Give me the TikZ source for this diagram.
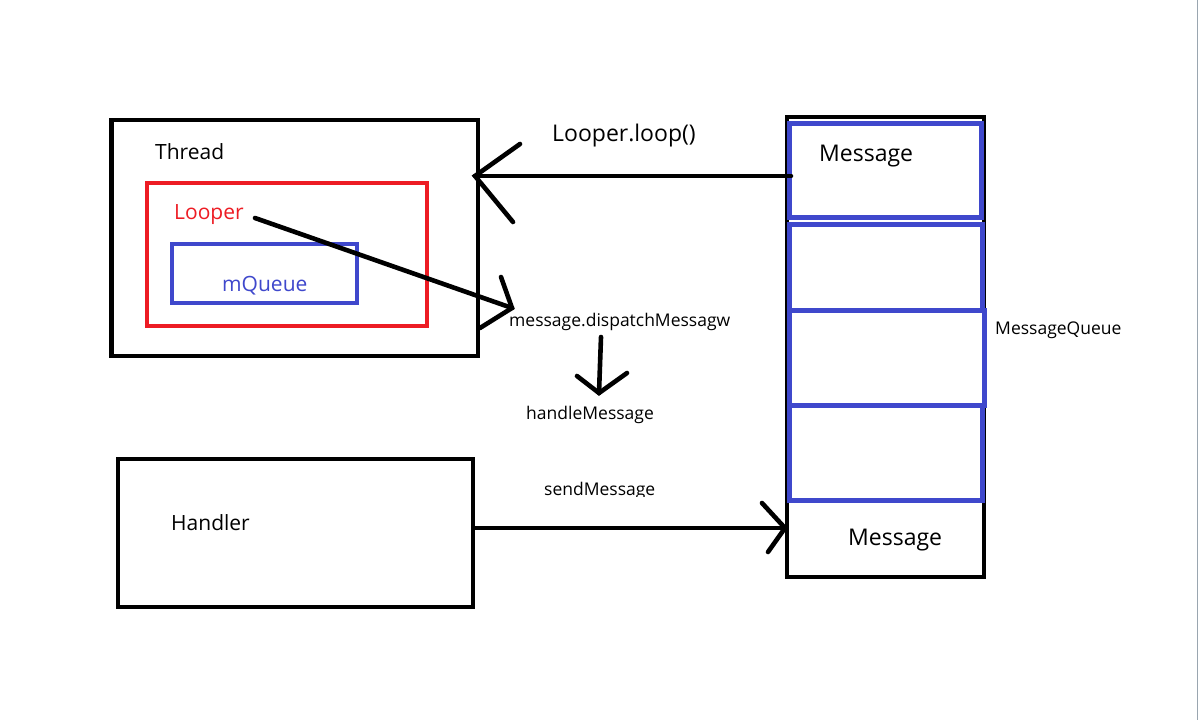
\documentclass[tikz,border=0pt]{standalone}
\usepackage{fontspec}
\setmainfont{Open Sans}
\definecolor{pblue}{HTML}{3F48CC}
\definecolor{pred}{HTML}{ED1C24}
\definecolor{edgegray}{HTML}{9AA6B0}
\begin{document}
\begin{tikzpicture}[x=1pt,y=-1pt,
  bigtxt/.style={anchor=base west,inner sep=0pt,font=\fontsize{21}{25}\selectfont},
  hugetxt/.style={anchor=base west,inner sep=0pt,font=\fontsize{23}{27}\selectfont},
  smalltxt/.style={anchor=base west,inner sep=0pt,font=\fontsize{17.5}{21}\selectfont},
  arr/.style={draw=black,line width=4.6pt,line cap=round},
  bluebox/.style={draw=pblue,line width=5pt},
]
\useasboundingbox (0,0) rectangle (1200,720);
\fill[white] (0,0) rectangle (1200,720);
\draw[edgegray,line width=1.6pt] (1197.5,0) -- (1197.5,720);

% Thread box
\node[draw=black,line width=4.2pt,minimum width=366.5pt,minimum height=236pt,inner sep=0pt] (thread) at (294.75,238) {};
\node[draw=pred,line width=4.5pt,minimum width=280pt,minimum height=143pt,inner sep=0pt] (looperbox) at (287,254.5) {};
\node[draw=pblue,line width=4.5pt,minimum width=185pt,minimum height=59pt,inner sep=0pt] (mqbox) at (264.5,273.5) {};
\node[bigtxt] (threadtxt) at (155,159) {Thread};
\node[bigtxt,text=pred] (loopertxt) at (174,219) {Looper};
\node[bigtxt,text=pblue] (mqtxt) at (222,291) {mQueue};

% Handler box
\node[draw=black,line width=4.4pt,minimum width=355pt,minimum height=148pt,inner sep=0pt] (handler) at (295.5,533) {};
\node[bigtxt] (handlertxt) at (171,530) {Handler};

% MessageQueue column
\node[draw=black,line width=4pt,minimum width=197pt,minimum height=460pt,inner sep=0pt] (queue) at (885.5,347) {};
\draw[bluebox] (789,123) rectangle (981,217);
\draw[bluebox] (789,224) rectangle (982,310);
\draw[bluebox] (789,310) rectangle (984,405);
\draw[bluebox] (789,405) rectangle (982,500);
\node[hugetxt] (msgtop) at (819,161.5) {Message};
\node[hugetxt] (msgbot) at (848,545) {Message};
\node[smalltxt] (mqlabel) at (995,334) {MessageQueue};

% labels
\node[hugetxt] (looplabel) at (552,141) {Looper.loop()};
\node[smalltxt] (dispatch) at (509,326) {message.dispatchMessagw};
\node[smalltxt] (handle) at (526,419) {handleMessage};
\begin{scope}
\clip (500,470) rectangle (700,496);
\node[smalltxt] (sendlabel) at (544,495) {sendMessage};
\end{scope}

% Looper.loop() arrow
\coordinate (loopstart) at (791,176);
\coordinate (looptip) at (475,176);
\coordinate (loophA) at (520,144);
\coordinate (loophB) at (513,222);
\draw[arr] (loopstart) -- (looptip);
\draw[arr] (loophA) -- (looptip) -- (loophB);

% Looper -> dispatch arrow
\coordinate (lstart) at (255,218);
\coordinate (ltip) at (512,308);
\coordinate (lhA) at (501,277);
\coordinate (lhB) at (480,328);
\draw[arr] (lstart) -- (ltip);
\draw[arr] (lhA) -- (ltip) -- (lhB);

% dispatch -> handleMessage arrow
\coordinate (dstart) at (601,337);
\coordinate (dtip) at (599,393);
\coordinate (dhA) at (577,376);
\coordinate (dhB) at (627,373);
\draw[arr] (dstart) -- (dtip);
\draw[arr] (dhA) -- (dtip) -- (dhB);

% sendMessage arrow
\coordinate (stip) at (785,528);
\coordinate (shA) at (762,503);
\coordinate (shB) at (768,552);
\draw[arr] (handler.east |- stip) -- (stip);
\draw[arr] (shA) -- (stip) -- (shB);
\end{tikzpicture}
\end{document}
